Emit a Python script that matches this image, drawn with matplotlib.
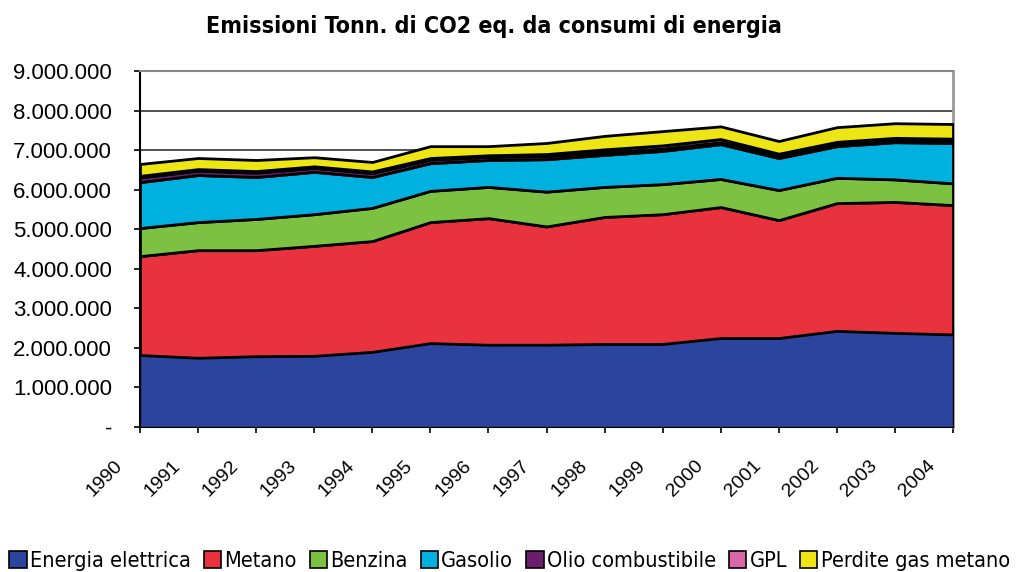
import numpy as np
import matplotlib
matplotlib.use('Agg')
import matplotlib.pyplot as plt
import matplotlib.transforms as mtransforms
from matplotlib.patches import Patch
from matplotlib.ticker import FuncFormatter

# values (millions of tonnes CO2 eq.)
years = list(range(1990, 2005))
series_names = ['Energia elettrica', 'Metano', 'Benzina', 'Gasolio',
                'Olio combustibile', 'GPL', 'Perdite gas metano']
energia = [1.82, 1.75, 1.79, 1.80, 1.90, 2.12, 2.08, 2.08, 2.10, 2.10, 2.25, 2.25, 2.43, 2.38, 2.34]
metano = [2.50, 2.72, 2.68, 2.78, 2.80, 3.06, 3.20, 2.99, 3.21, 3.28, 3.31, 2.98, 3.23, 3.31, 3.27]
benzina = [0.71, 0.71, 0.79, 0.80, 0.84, 0.79, 0.79, 0.88, 0.76, 0.76, 0.71, 0.76, 0.64, 0.57, 0.55]
gasolio = [1.16, 1.19, 1.06, 1.07, 0.78, 0.70, 0.68, 0.82, 0.81, 0.84, 0.88, 0.81, 0.80, 0.94, 1.02]
olio = [0.12, 0.11, 0.11, 0.10, 0.10, 0.09, 0.08, 0.08, 0.07, 0.06, 0.05, 0.06, 0.06, 0.06, 0.06]
gpl = [0.04, 0.04, 0.04, 0.04, 0.04, 0.04, 0.04, 0.05, 0.07, 0.08, 0.08, 0.05, 0.05, 0.05, 0.05]
perdite = [0.30, 0.28, 0.28, 0.23, 0.24, 0.30, 0.23, 0.28, 0.34, 0.36, 0.32, 0.32, 0.37, 0.37, 0.37]

colors = ['#2B459E', '#E8333F', '#7CC142', '#00B0DF', '#6A1F6E', '#DA68A8', '#EEE614']

plt.rcParams['font.family'] = ['Liberation Sans', 'DejaVu Sans']
# condensed face for title / legend (narrow look of the original)
narrow_prop = dict(family=['DejaVu Sans'], stretch='condensed')

fig = plt.figure(figsize=(10.19, 5.72), dpi=100)
ax = fig.add_axes([140/1019, 1-427/572, (953-140)/1019, (427-71)/572])

data = [np.array(s) * 1e6 for s in [energia, metano, benzina, gasolio, olio, gpl, perdite]]
polys = ax.stackplot(years, *data, colors=colors, edgecolor='black', linewidth=2.0, zorder=3)
polys[0].set_linewidth(1.0)

ax.set_xlim(1990, 2004)
ax.set_ylim(0, 9e6)
ax.set_yticks(np.arange(0, 9.5e6, 1e6))
ax.yaxis.set_major_formatter(FuncFormatter(
    lambda v, p: '-' if v == 0 else f'{int(v):,}'.replace(',', '.')))
ax.grid(axis='y', color='#333333', linewidth=1.2, zorder=1)
ax.set_axisbelow(True)

ax.set_xticks(years)
ax.set_xticklabels([str(y) for y in years], rotation=45, ha='right', va='center',
                   rotation_mode='anchor', fontsize=14)
ax.tick_params(axis='y', labelsize=16, length=4, width=1.2, direction='out', pad=16)
ax.tick_params(axis='x', length=4.3, width=1.2, direction='out', pad=0)
offset = mtransforms.ScaledTranslation(-0.20, -0.30, fig.dpi_scale_trans)
for lab in ax.get_xticklabels():
    lab.set_transform(lab.get_transform() + offset)

ax.spines['left'].set_color('black')
ax.spines['left'].set_linewidth(1.5)
ax.spines['bottom'].set_color('black')
ax.spines['bottom'].set_linewidth(1.5)
ax.spines['top'].set_color('#888888')
ax.spines['top'].set_linewidth(1.5)
ax.spines['right'].set_color('#999999')
ax.spines['right'].set_linewidth(2.0)

fig.text(494/1019, 1-27/572, 'Emissioni Tonn. di CO2 eq. da consumi di energia',
         ha='center', va='center', fontsize=16.7, fontweight='bold', **narrow_prop)

handles = [Patch(facecolor=c, edgecolor='black', linewidth=1.2) for c in colors]
fig.legend(handles, series_names, loc='center', bbox_to_anchor=(0.5, 1-561/572),
           ncol=7, frameon=False, handlelength=0.8, handleheight=0.8,
           handletextpad=0.15, columnspacing=0.6, borderaxespad=0,
           prop={'family': ['DejaVu Sans'], 'stretch': 'condensed', 'size': 15.6})

fig.savefig('out.png', dpi=100)
